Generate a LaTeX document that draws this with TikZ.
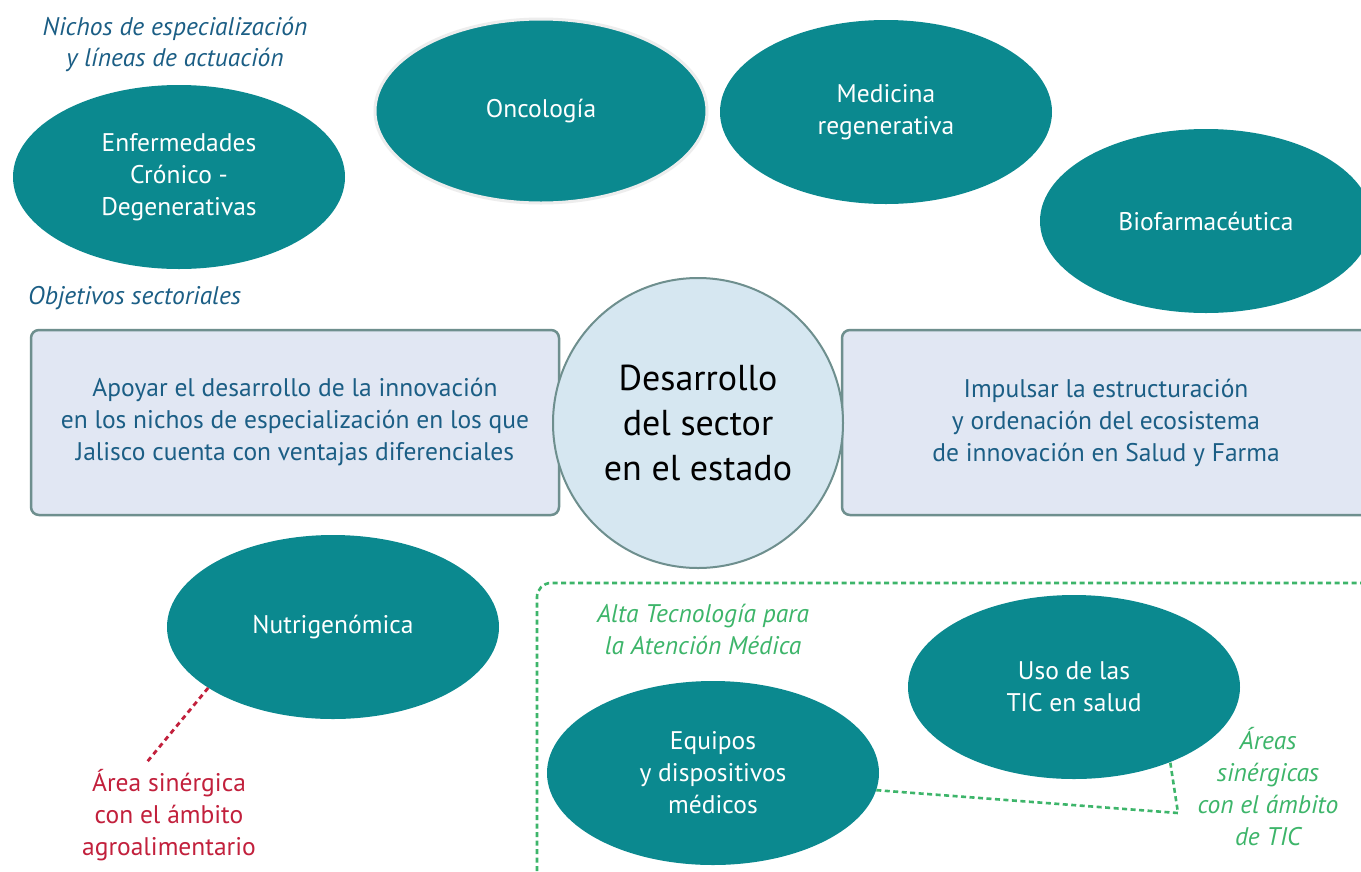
\documentclass[tikz,border=0pt]{standalone}
\usepackage{fontspec}
\setmainfont{PT Sans}
\usetikzlibrary{shapes.geometric}
\definecolor{teal1}{HTML}{0B898F}
\definecolor{dblue}{HTML}{1B5E85}
\definecolor{boxfill}{HTML}{E1E7F3}
\definecolor{boxline}{HTML}{6E8F8E}
\definecolor{circfill}{HTML}{D6E7F1}
\definecolor{redc}{HTML}{C2203C}
\definecolor{greenc}{HTML}{3DB56A}
\tikzset{
  ell/.style={ellipse, fill=teal1, text=white, align=center, inner sep=0pt,
    minimum width=332pt, minimum height=184pt, font=\fontsize{25.5}{32}\selectfont},
  objbox/.style={rectangle, rounded corners=8pt, draw=boxline, line width=2.5pt, fill=boxfill,
    text=dblue, align=center, minimum width=528pt, minimum height=185pt, inner sep=0pt,
    font=\fontsize{25.5}{32}\selectfont},
  heading/.style={text=dblue, align=center, inner sep=0pt, font=\fontsize{25.5}{31}\selectfont\itshape},
  greentxt/.style={text=greenc, align=center, inner sep=0pt, font=\fontsize{25.5}{32}\selectfont\itshape},
  redtxt/.style={text=redc, align=center, inner sep=0pt, font=\fontsize{25.5}{32}\selectfont},
  gdash/.style={draw=greenc, line width=2.6pt, dash pattern=on 5pt off 3.5pt},
  rdash/.style={draw=redc, line width=2.8pt, dash pattern=on 5pt off 4pt}
}
\begin{document}
\begin{tikzpicture}[x=1pt,y=-1pt]
\useasboundingbox[fill=white] (0,0) rectangle (1361,871);

% headings
\node[heading] (h1) at (175,44.5) {Nichos de especialización\\y líneas de actuación};
\node[heading, anchor=west] (h2) at (28,298) {Objetivos sectoriales};

% top ellipses
\node[ell] (enf) at (179,177) {Enfermedades\\Crónico -\\Degenerativas};
\node[ell, draw=black!7, line width=3pt] (onc) at (541,111) {\raisebox{-3pt}{Oncología}};
\node[ell] (med) at (886,112) {Medicina\\regenerativa};
\node[ell] (bio) at (1206,221) {Biofarmacéutica};

% objective boxes
\node[objbox] (lbox) at (295,422.5) {Apoyar el desarrollo de la innovación\\en los nichos de especialización en los que\\Jalisco cuenta con ventajas diferenciales};
\node[objbox] (rbox) at (1106,422.5) {Impulsar la estructuración\\y ordenación del ecosistema\\de innovación en Salud y Farma};

% central circle
\node[circle, draw=boxline, line width=2pt, fill=circfill, minimum size=290pt, inner sep=0pt,
  align=center, font=\fontsize{36}{45}\selectfont] (cen) at (698,423) {Desarrollo\\del sector\\en el estado};

% nutrigenomica
\node[ell] (nut) at (333,627) {Nutrigenómica};
\node[redtxt] (agro) at (169,815) {Área sinérgica\\con el ámbito\\agroalimentario};
\coordinate (rend) at (147,762);
\draw[rdash] (nut.206) -- (rend);

% green area
\draw[gdash, rounded corners=14pt] (537,871) -- (537,583) -- (1361,583);
\node[greentxt] (alta) at (703,629) {Alta Tecnología para\\la Atención Médica};
\node[ell] (uso) at (1074,687) {Uso de las\\TIC en salud};
\node[ell] (equ) at (713,773) {Equipos\\y dispositivos\\médicos};
\node[greentxt] (areas) at (1268,787) {Áreas\\sinérgicas\\con el ámbito\\de TIC};
\coordinate (gcorner) at (1178,813);
\draw[gdash] (equ.-6) -- (gcorner) -- (uso.-38);
\end{tikzpicture}
\end{document}
